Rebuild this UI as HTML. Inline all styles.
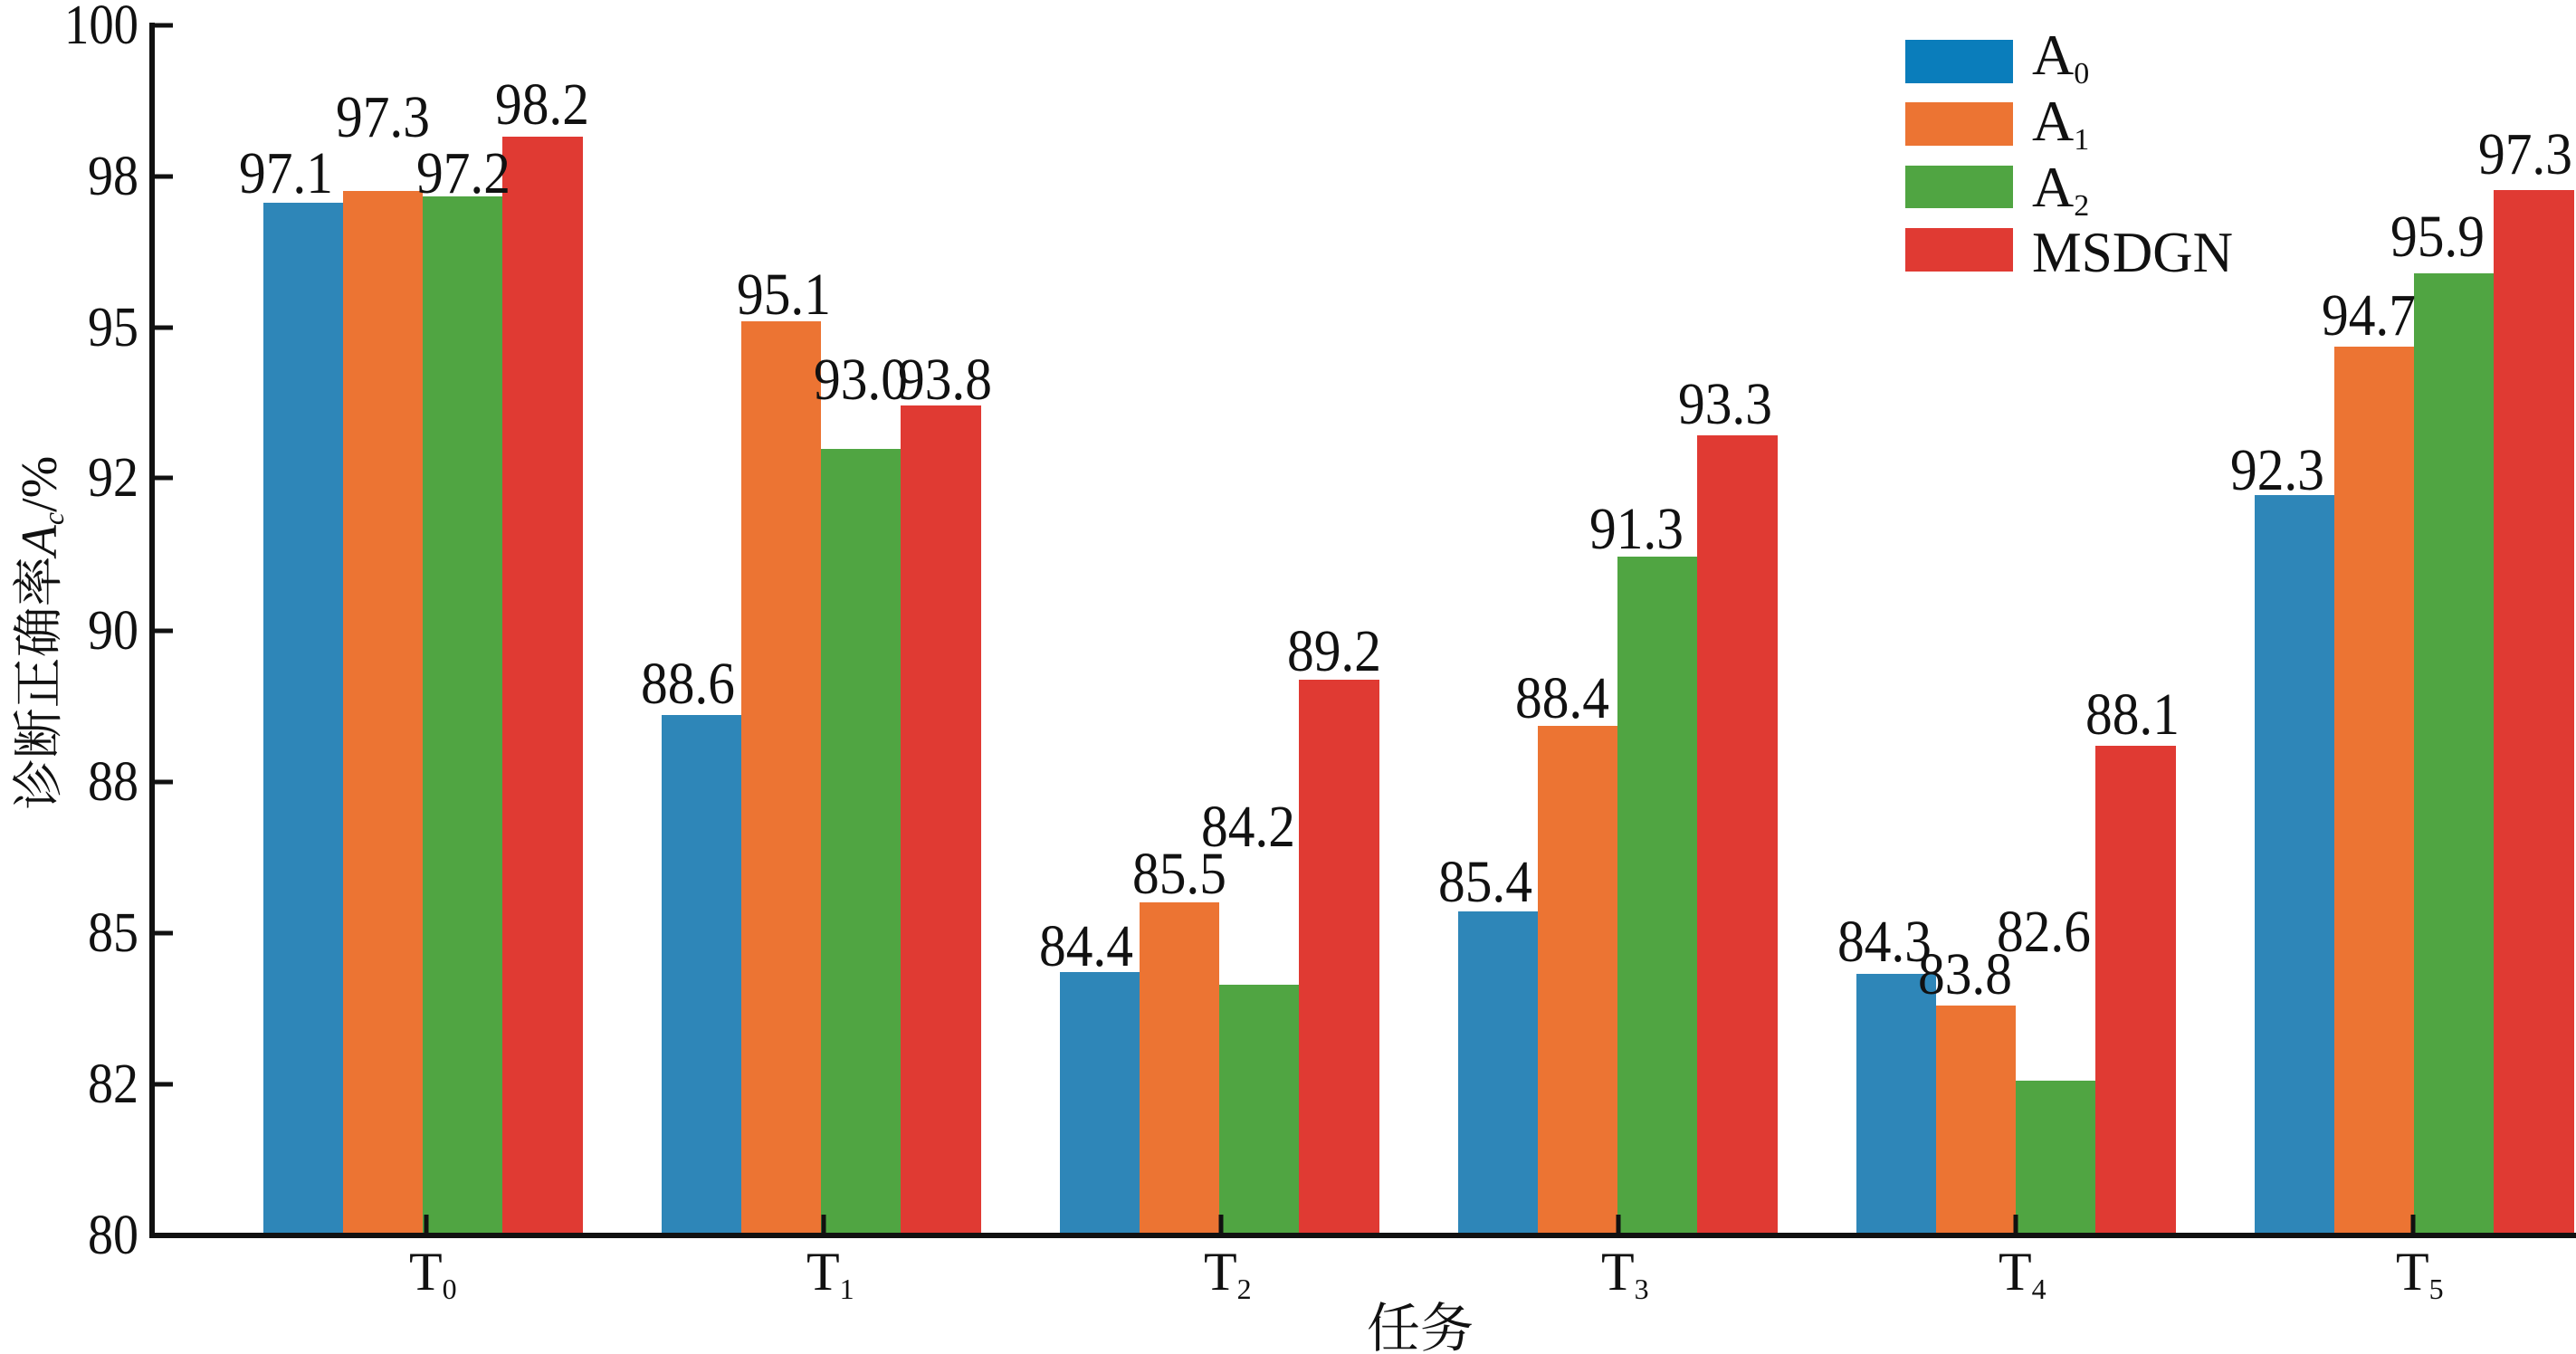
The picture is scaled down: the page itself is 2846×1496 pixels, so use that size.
<!DOCTYPE html>
<html><head><meta charset="utf-8"><style>
html,body{margin:0;padding:0;background:#fff;}
svg{display:block;}
text{font-family:"Liberation Serif","Noto Serif CJK SC",serif;fill:#111;}
</style></head><body>
<svg width="2846" height="1496" viewBox="0 0 2846 1496" xmlns="http://www.w3.org/2000/svg">
<g>
<rect x="291" y="224" width="88" height="1141" fill="#2E86B8"/>
<rect x="379" y="211" width="88" height="1154" fill="#EC7433"/>
<rect x="467" y="217" width="88" height="1148" fill="#50A542"/>
<rect x="555" y="151" width="89" height="1214" fill="#E03A33"/>

<rect x="731" y="790" width="88" height="575" fill="#2E86B8"/>
<rect x="819" y="355" width="88" height="1010" fill="#EC7433"/>
<rect x="907" y="496" width="88" height="869" fill="#50A542"/>
<rect x="995" y="448" width="89" height="917" fill="#E03A33"/>

<rect x="1171" y="1074" width="88" height="291" fill="#2E86B8"/>
<rect x="1259" y="997" width="88" height="368" fill="#EC7433"/>
<rect x="1347" y="1088" width="88" height="277" fill="#50A542"/>
<rect x="1435" y="751" width="89" height="614" fill="#E03A33"/>

<rect x="1611" y="1007" width="88" height="358" fill="#2E86B8"/>
<rect x="1699" y="802" width="88" height="563" fill="#EC7433"/>
<rect x="1787" y="615" width="88" height="750" fill="#50A542"/>
<rect x="1875" y="481" width="89" height="884" fill="#E03A33"/>

<rect x="2051" y="1076" width="88" height="289" fill="#2E86B8"/>
<rect x="2139" y="1111" width="88" height="254" fill="#EC7433"/>
<rect x="2227" y="1194" width="88" height="171" fill="#50A542"/>
<rect x="2315" y="824" width="89" height="541" fill="#E03A33"/>

<rect x="2491" y="547" width="88" height="818" fill="#2E86B8"/>
<rect x="2579" y="383" width="88" height="982" fill="#EC7433"/>
<rect x="2667" y="302" width="88" height="1063" fill="#50A542"/>
<rect x="2755" y="210" width="89" height="1155" fill="#E03A33"/>
</g>

<line x1="168" y1="25" x2="168" y2="1368" stroke="#111" stroke-width="6"/>
<line x1="165" y1="1365" x2="2846" y2="1365" stroke="#111" stroke-width="6"/>
<g stroke="#111" stroke-width="5">
<line x1="168" y1="28" x2="191" y2="28"/>
<line x1="168" y1="195" x2="191" y2="195"/>
<line x1="168" y1="362" x2="191" y2="362"/>
<line x1="168" y1="528" x2="191" y2="528"/>
<line x1="168" y1="697" x2="191" y2="697"/>
<line x1="168" y1="864" x2="191" y2="864"/>
<line x1="168" y1="1031" x2="191" y2="1031"/>
<line x1="168" y1="1198" x2="191" y2="1198"/>
<line x1="471" y1="1342" x2="471" y2="1365"/>
<line x1="910" y1="1342" x2="910" y2="1365"/>
<line x1="1349" y1="1342" x2="1349" y2="1365"/>
<line x1="1788" y1="1342" x2="1788" y2="1365"/>
<line x1="2227" y1="1342" x2="2227" y2="1365"/>
<line x1="2666" y1="1342" x2="2666" y2="1365"/>
</g>

<g font-size="62" text-anchor="end" font-family="Liberation Serif, serif" lengthAdjust="spacingAndGlyphs">
<text x="153" y="48" textLength="82" lengthAdjust="spacingAndGlyphs">100</text>
<text x="153" y="215" textLength="56" lengthAdjust="spacingAndGlyphs">98</text>
<text x="153" y="382" textLength="56" lengthAdjust="spacingAndGlyphs">95</text>
<text x="153" y="548" textLength="56" lengthAdjust="spacingAndGlyphs">92</text>
<text x="153" y="717" textLength="56" lengthAdjust="spacingAndGlyphs">90</text>
<text x="153" y="884" textLength="56" lengthAdjust="spacingAndGlyphs">88</text>
<text x="153" y="1051" textLength="56" lengthAdjust="spacingAndGlyphs">85</text>
<text x="153" y="1218" textLength="56" lengthAdjust="spacingAndGlyphs">82</text>
<text x="153" y="1385" textLength="56" lengthAdjust="spacingAndGlyphs">80</text>
</g>

<g font-size="60" font-family="Liberation Serif, serif">
<text x="452" y="1425">T<tspan font-size="32" dy="10">0</tspan></text>
<text x="891" y="1425">T<tspan font-size="32" dy="10">1</tspan></text>
<text x="1330" y="1425">T<tspan font-size="32" dy="10">2</tspan></text>
<text x="1769" y="1425">T<tspan font-size="32" dy="10">3</tspan></text>
<text x="2208" y="1425">T<tspan font-size="32" dy="10">4</tspan></text>
<text x="2647" y="1425">T<tspan font-size="32" dy="10">5</tspan></text>
</g>

<text x="1569" y="1488" font-size="59" text-anchor="middle">任务</text>
<text transform="translate(62,699) rotate(-90)" font-size="56" text-anchor="middle">诊断正确率<tspan font-style="italic">A</tspan><tspan font-size="32" dy="8" font-style="italic">c</tspan><tspan dy="-8">/%</tspan></text>

<g font-size="66" text-anchor="middle" font-family="Liberation Serif, serif">
<text x="316" y="213" textLength="104" lengthAdjust="spacingAndGlyphs">97.1</text>
<text x="423" y="151" textLength="104" lengthAdjust="spacingAndGlyphs">97.3</text>
<text x="512" y="213" textLength="104" lengthAdjust="spacingAndGlyphs">97.2</text>
<text x="599" y="137" textLength="104" lengthAdjust="spacingAndGlyphs">98.2</text>
<text x="760" y="777" textLength="104" lengthAdjust="spacingAndGlyphs">88.6</text>
<text x="866" y="347" textLength="104" lengthAdjust="spacingAndGlyphs">95.1</text>
<text x="951" y="441" textLength="104" lengthAdjust="spacingAndGlyphs">93.0</text>
<text x="1044" y="441" textLength="104" lengthAdjust="spacingAndGlyphs">93.8</text>
<text x="1200" y="1067" textLength="104" lengthAdjust="spacingAndGlyphs">84.4</text>
<text x="1303" y="987" textLength="104" lengthAdjust="spacingAndGlyphs">85.5</text>
<text x="1379" y="935" textLength="104" lengthAdjust="spacingAndGlyphs">84.2</text>
<text x="1474" y="741" textLength="104" lengthAdjust="spacingAndGlyphs">89.2</text>
<text x="1641" y="996" textLength="104" lengthAdjust="spacingAndGlyphs">85.4</text>
<text x="1726" y="793" textLength="104" lengthAdjust="spacingAndGlyphs">88.4</text>
<text x="1808" y="606" textLength="104" lengthAdjust="spacingAndGlyphs">91.3</text>
<text x="1906" y="468" textLength="104" lengthAdjust="spacingAndGlyphs">93.3</text>
<text x="2082" y="1062" textLength="104" lengthAdjust="spacingAndGlyphs">84.3</text>
<text x="2171" y="1098" textLength="104" lengthAdjust="spacingAndGlyphs">83.8</text>
<text x="2258" y="1051" textLength="104" lengthAdjust="spacingAndGlyphs">82.6</text>
<text x="2356" y="811" textLength="104" lengthAdjust="spacingAndGlyphs">88.1</text>
<text x="2516" y="541" textLength="104" lengthAdjust="spacingAndGlyphs">92.3</text>
<text x="2617" y="370" textLength="104" lengthAdjust="spacingAndGlyphs">94.7</text>
<text x="2693" y="283" textLength="104" lengthAdjust="spacingAndGlyphs">95.9</text>
<text x="2790" y="192" textLength="104" lengthAdjust="spacingAndGlyphs">97.3</text>
</g>

<rect x="2105" y="44" width="119" height="48" fill="#0A7DBB"/>
<rect x="2105" y="113" width="119" height="48" fill="#EC7433"/>
<rect x="2105" y="183" width="119" height="47" fill="#50A542"/>
<rect x="2105" y="252" width="119" height="48" fill="#E03A33"/>
<g font-size="64" font-family="Liberation Serif, serif">
<text x="2245" y="82">A<tspan font-size="34" dy="10">0</tspan></text>
<text x="2245" y="155">A<tspan font-size="34" dy="10">1</tspan></text>
<text x="2245" y="228">A<tspan font-size="34" dy="10">2</tspan></text>
<text x="2245" y="300" textLength="222" lengthAdjust="spacingAndGlyphs">MSDGN</text>
</g>
</svg>
</body></html>
